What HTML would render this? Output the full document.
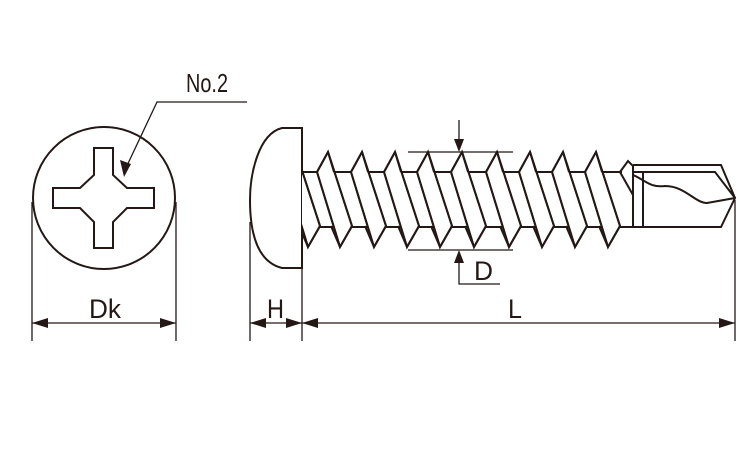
<!DOCTYPE html>
<html><head><meta charset="utf-8"><style>
html,body{margin:0;padding:0;background:#fff;width:750px;height:450px;overflow:hidden}
text{font-family:"Liberation Sans",sans-serif;fill:#231815}
</style></head><body>
<svg width="750" height="450" viewBox="0 0 750 450" xmlns="http://www.w3.org/2000/svg">
<defs>
<clipPath id="c"><rect x="302" y="0" width="320" height="450"/></clipPath>
<g id="th">
<polygon points="-11,172 0,152 24,226 12,247" fill="#fff"/>
<polyline points="-11,172 0,152 24,226 12,247 -11,172" fill="none"/>
<line x1="12" y1="247" x2="3" y2="226"/>
<line x1="0" y1="152" x2="6" y2="172"/>
</g>
</defs>
<g stroke="#231815" stroke-width="2" fill="none">
<circle cx="104" cy="198" r="71"/>
<polygon points="94,148 113,148 113,175 127,188 154,188 154,208 127,208 113,222 113,248 94,248 94,222 80,208 53,208 53,188 80,188 94,175"/>
<polyline points="247,102 157,102 124,172" stroke-width="1.3"/>
<path d="M302,128 L282,128 C258,134 250,175 250,200 C250,235 258,262 282,268 L302,268 Z"/>
<line x1="302" y1="172" x2="622" y2="172"/>
<line x1="302" y1="227" x2="622" y2="227"/>
<g clip-path="url(#c)">
<use href="#th" x="296"/>
<use href="#th" x="328"/><use href="#th" x="362"/><use href="#th" x="395"/>
<use href="#th" x="428"/><use href="#th" x="462"/><use href="#th" x="497"/>
<use href="#th" x="530"/><use href="#th" x="563"/><use href="#th" x="596"/>
</g>
<polyline points="620,172 628,161 633,166 633,227 620,227"/>
<line x1="620" y1="172" x2="633" y2="195"/>
<polyline points="633,165 721,165 735,198 721,227 633,227"/>
<polyline points="633,172 715,172 735,198"/>
<line x1="643" y1="172" x2="643" y2="227"/>
<path d="M633,175 C645,180 650,188 665,186 C685,186 695,203 707,203 L735,198"/>
<g stroke-width="1.3">
<line x1="408" y1="152" x2="513" y2="152"/>
<line x1="408" y1="250" x2="513" y2="250"/>
<line x1="459" y1="120" x2="459" y2="142"/>
<polyline points="459,262 459,284 500,284"/>
<line x1="32" y1="202" x2="32" y2="341"/>
<line x1="176" y1="202" x2="176" y2="341"/>
<line x1="250" y1="222" x2="250" y2="341"/>
<line x1="302" y1="268" x2="302" y2="341"/>
<line x1="735" y1="200" x2="735" y2="341"/>
<line x1="32" y1="323" x2="176" y2="323"/>
<line x1="250" y1="323" x2="735" y2="323"/>
</g>
</g>
<g fill="#231815">
<polygon points="124,177 120,160 131,164"/>
<polygon points="459,152 454,139 464,139"/>
<polygon points="459,250 454,263 464,263"/>
<polygon points="32,323 48,318 48,328"/>
<polygon points="176,323 160,318 160,328"/>
<polygon points="250,323 266,318 266,328"/>
<polygon points="302,323 286,318 286,328"/>
<polygon points="302,323 318,318 318,328"/>
<polygon points="735,323 719,318 719,328"/>
</g>
<text x="186" y="92" font-size="26" textLength="42" lengthAdjust="spacingAndGlyphs">No.2</text>
<text x="89" y="318" font-size="27" textLength="32" lengthAdjust="spacingAndGlyphs">Dk</text>
<text x="267" y="318" font-size="27" textLength="17" lengthAdjust="spacingAndGlyphs">H</text>
<text x="508" y="318" font-size="27" textLength="14" lengthAdjust="spacingAndGlyphs">L</text>
<text x="474" y="280" font-size="27" textLength="19" lengthAdjust="spacingAndGlyphs">D</text>
</svg>
</body></html>
